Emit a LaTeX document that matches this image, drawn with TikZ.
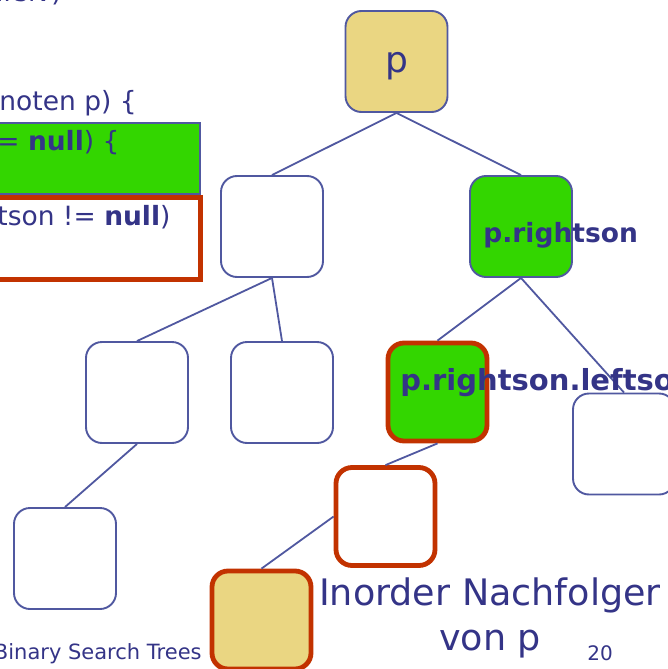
\documentclass[tikz,border=0pt]{standalone}
\usepackage{fontspec}
\setmainfont{DejaVu Sans}

\definecolor{knotblue}{RGB}{80,88,160}
\definecolor{textblue}{RGB}{52,52,135}
\definecolor{markgreen}{RGB}{51,214,0}
\definecolor{markred}{RGB}{194,50,0}
\definecolor{markgold}{RGB}{234,214,130}

\tikzset{every picture/.style={line width=0.75pt}}
\tikzset{
  knot/.style={draw=knotblue, line width=1.9pt, rounded corners=16pt, fill=white,
    minimum width=102pt, minimum height=101pt, inner sep=0pt},
  redknot/.style={knot, draw=markred, line width=4.8pt, minimum width=99pt, minimum height=98pt},
  kante/.style={draw=knotblue, line width=1.8pt},
  codetext/.style={text=textblue, inner sep=0pt, font=\fontsize{26.5}{30}\selectfont},
  knotlabel/.style={text=textblue, inner sep=0pt, font=\bfseries\fontsize{26.5}{30}\selectfont},
}

\begin{document}
\begin{tikzpicture}[x=1pt,y=1pt,yscale=-1,xscale=1]
\useasboundingbox (0,0) rectangle (668,669);
\clip (0,0) rectangle (668,669);

% code fragment on the left
\node[codetext, anchor=base east] (kopf) at (62,2) {(rekursiv)};
\node[codetext, anchor=base west] (zeile1) at (-1,110) {noten p) \{};
\draw [draw=knotblue, fill=markgreen, line width=1.8pt] (-5,123) rectangle (200,194);
\draw [draw=markred, fill=white, line width=5pt] (-5,197.5) rectangle (200,279);
\node[codetext, anchor=base west] (zeile2) at (-3,150) {= \textbf{null}) \{};
\node[codetext, anchor=base west] (zeile3) at (-3,225) {tson != \textbf{null})};

% tree nodes
\node[knot, fill=markgold] (p) at (396.5,61.5) {};
\node[knot] (l) at (272,226.5) {};
\node[knot, fill=markgreen] (r) at (521,226.5) {};
\node[knot] (ll) at (137,392.5) {};
\node[knot] (lr) at (282,392.5) {};
\node[redknot, fill=markgreen] (rl) at (437.5,392) {};
\node[knot] (rr) at (624,444) {};
\node[knot] (lll) at (65,558.5) {};
\node[redknot] (rll) at (385.5,516.5) {};
\node[redknot, fill=markgold] (rlll) at (261.5,620) {};

% edges
\draw[kante] (p.south) -- (l.north);
\draw[kante] (p.south) -- (r.north);
\draw[kante] (l.south) -- (ll.north);
\draw[kante] (l.south) -- (lr.north);
\draw[kante] (r.south) -- (rl.north);
\draw[kante] (r.south) -- (rr.north);
\draw[kante] (ll.south) -- (lll.north);
\draw[kante] (rl.south) -- (rll.north);
\draw[kante] (rlll.north) -- (rll.west);

% labels
\node[text=textblue, inner sep=0pt, font=\fontsize{36}{40}\selectfont, anchor=base] (plbl) at (396.5,73) {p};
\node[knotlabel, anchor=base west] (rlbl) at (483,242) {p.rightson};
\node[knotlabel, font=\bfseries\fontsize{29}{34}\selectfont, anchor=base west] (rllbl) at (400,390) {p.rightson.leftson};

% footer
\node[text=textblue, inner sep=0pt, font=\fontsize{21}{24}\selectfont, anchor=base east] (fuss) at (202,659) {Binary Search Trees};
\node[text=textblue, inner sep=0pt, font=\fontsize{36.5}{40}\selectfont, anchor=base] (nach1) at (490,605) {Inorder Nachfolger};
\node[text=textblue, inner sep=0pt, font=\fontsize{36.5}{40}\selectfont, anchor=base] (nach2) at (490,650) {von p};
\node[text=textblue, inner sep=0pt, font=\fontsize{20}{24}\selectfont, anchor=base west] (seite) at (587,660) {20};

\end{tikzpicture}
\end{document}
